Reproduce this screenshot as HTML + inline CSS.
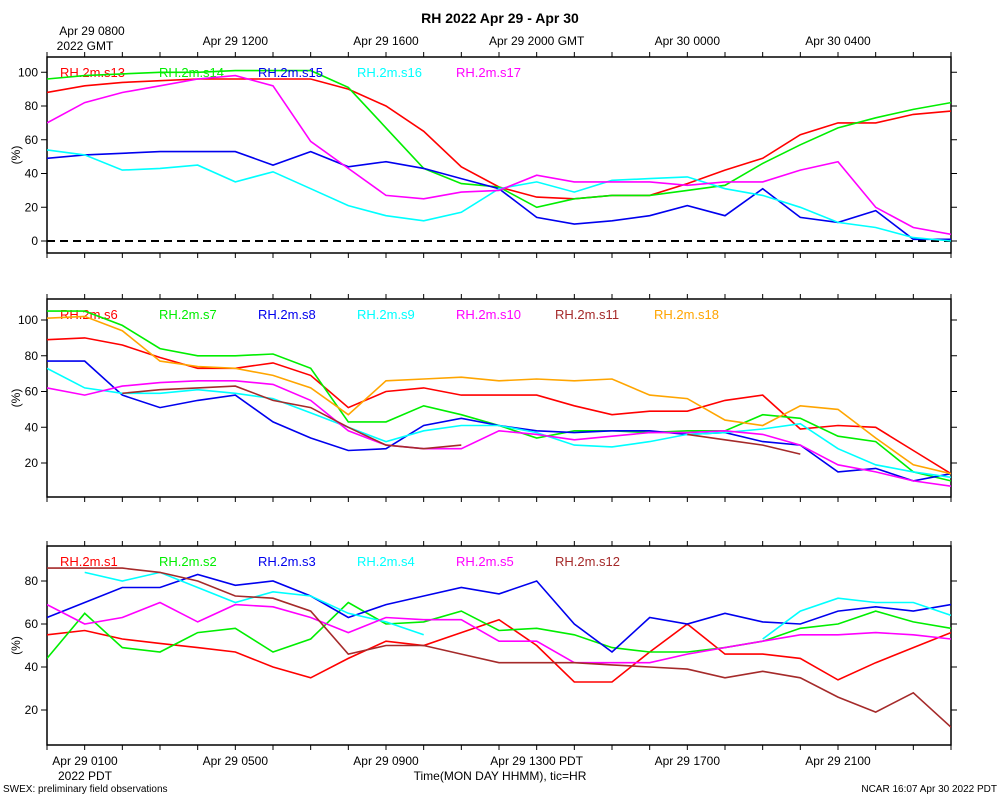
<!DOCTYPE html>
<html><head><meta charset="utf-8"><style>
body{margin:0;background:#fff}
svg{display:block;font-family:"Liberation Sans",sans-serif}
</style></head><body>
<svg id="c" width="1000" height="800" viewBox="0 0 1000 800" xmlns="http://www.w3.org/2000/svg">
<rect width="1000" height="800" fill="#fff"/>
<text x="500" y="23" text-anchor="middle" font-size="14" font-weight="bold">RH 2022 Apr 29 - Apr 30</text>
<text x="92" y="35" text-anchor="middle" font-size="12">Apr 29 0800</text>
<text x="85" y="50" text-anchor="middle" font-size="12">2022 GMT</text>
<text x="85" y="765" text-anchor="middle" font-size="12">Apr 29 0100</text>
<text x="85" y="780" text-anchor="middle" font-size="12">2022 PDT</text>
<text x="500" y="780" text-anchor="middle" font-size="12">Time(MON DAY HHMM), tic=HR</text>
<text x="3" y="792" font-size="10">SWEX: preliminary field observations</text>
<text x="997" y="792" text-anchor="end" font-size="10">NCAR 16:07 Apr 30 2022 PDT</text>
<g id="plots"></g>
</svg>
<script>
const hours=[0,1,2,3,4,5,6,7,8,9,10,11,12,13,14,15,16,17,18,19,20,21,22,23,24];
const topTickLabels=["Apr 29 1200","Apr 29 1600","Apr 29 2000 GMT","Apr 30 0000","Apr 30 0400"];
const topTickHours=[5,9,13,17,21];
const bottomTickLabels=["Apr 29 0500","Apr 29 0900","Apr 29 1300 PDT","Apr 29 1700","Apr 29 2100"];
const bottomTickHours=[5,9,13,17,21];
const n=null;
// panel 1
const s13=[88,92,94,95,96,96,96,96,90,80,65,44,32,26,25,27,27,34,42,49,63,70,70,75,77];
const s14=[96,98,99,100,100,101,101,101,91,67,43,34,32,20,25,27,27,30,33,46,57,67,73,78,82];
const s15=[49,51,52,53,53,53,45,53,44,47,43,37,31,14,10,12,15,21,15,31,14,11,18,1,1];
const s16=[54,51,42,43,45,35,41,31,21,15,12,17,31,35,29,36,37,38,31,27,20,11,8,2,0];
const s17=[70,82,88,92,96,98,92,59,43,27,25,29,30,39,35,35,35,33,35,35,42,47,20,8,4];
// panel 2
const s6=[89,90,86,79,73,73,76,69,51,60,62,58,58,58,52,47,49,49,55,58,39,41,40,27,14];
const s7=[105,105,97,84,80,80,81,73,43,43,52,47,41,34,38,38,37,38,38,47,45,35,32,15,10];
const s8=[77,77,58,51,55,58,43,34,27,28,41,45,41,38,37,38,38,36,37,32,30,15,17,10,14];
const s9=[73,62,59,59,61,59,56,48,40,32,38,41,41,37,30,29,32,36,37,39,42,28,19,15,12];
const s10=[62,58,63,65,66,66,64,55,38,30,28,28,38,36,33,35,37,37,38,36,30,19,15,10,7];
const s11=[n,n,59,61,62,63,55,51,40,30,28,30,n,n,n,n,n,36,33,30,25,n,n,n,n];
const s18=[101,102,94,77,74,73,69,62,47,66,67,68,66,67,66,67,58,56,44,41,52,50,34,19,14];
// panel 3
const s1=[55,57,53,51,49,47,40,35,44,52,50,56,62,50,33,33,47,60,46,46,44,34,42,49,56];
const s2=[44,65,49,47,56,58,47,53,70,60,61,66,57,58,55,49,47,47,49,52,58,60,66,61,58];
const s3=[63,70,77,77,83,78,80,73,63,69,73,77,74,80,60,47,63,60,65,61,60,66,68,66,69];
const s4=[n,84,80,84,77,70,75,73,65,61,55,n,n,n,n,n,n,n,n,53,66,72,70,70,64];
const s5=[69,60,63,70,61,69,68,63,56,63,62,62,52,52,42,42,42,46,49,52,55,55,56,55,53];
const s12=[86,86,86,84,80,73,72,66,46,50,50,46,42,42,42,41,40,39,35,38,35,26,19,28,12];

const NS="http://www.w3.org/2000/svg";
const root=document.getElementById('plots');
const X0=47,X1=951;
function xs(h){return X0+(X1-X0)*h/24;}
function mk(tag,attrs,parent){const e=document.createElementNS(NS,tag);for(const k in attrs)e.setAttribute(k,attrs[k]);(parent||root).appendChild(e);return e;}

const panels=[
 {top:57,bot:253,y0:241,y100:72.25,ticks:[0,20,40,60,80,100],zero:true,
  names:["s13","s14","s15","s16","s17"],data:[s13,s14,s15,s16,s17],colors:["#ff0000","#00ee00","#0000ee","#00ffff","#ff00ff"]},
 {top:299,bot:497,y0:498.75,y100:320,ticks:[20,40,60,80,100],
  names:["s6","s7","s8","s9","s10","s11","s18"],data:[s6,s7,s8,s9,s10,s11,s18],colors:["#ff0000","#00ee00","#0000ee","#00ffff","#ff00ff","#a52a2a","#ffa500"]},
 {top:546,bot:745,y0:753,y100:538,ticks:[20,40,60,80],
  names:["s1","s2","s3","s4","s5","s12"],data:[s1,s2,s3,s4,s5,s12],colors:["#ff0000","#00ee00","#0000ee","#00ffff","#ff00ff","#a52a2a"]}
];

panels.forEach((p,pi)=>{
 const g=mk('g',{});
 
 
 const ys=v=>p.y0+(p.y100-p.y0)*v/100;
 const cp=mk('clipPath',{id:'cp'+pi},g);
 mk('rect',{x:X0,y:p.top,width:X1-X0,height:p.bot-p.top},cp);
 const fr=mk('rect',{x:X0,y:p.top,width:X1-X0,height:p.bot-p.top,fill:'none',stroke:'#000','stroke-width':1.5},g);
 
 
 hours.forEach(h=>{
  const x=xs(h);
  mk('line',{x1:x,x2:x,y1:p.top,y2:p.top-5,stroke:'#000'},g);
  mk('line',{x1:x,x2:x,y1:p.bot,y2:p.bot+5,stroke:'#000'},g);
 });
 p.ticks.forEach(v=>{
  const y=ys(v);
  mk('line',{x1:X0-6,x2:X0,y1:y,y2:y,stroke:'#000'},g);
  mk('line',{x1:X1,x2:X1+6,y1:y,y2:y,stroke:'#000'},g);
  const t=mk('text',{x:X0-9,y:y+4,'text-anchor':'end','font-size':12},g);
  t.textContent=v;
  
  
 });
 const yl=mk('text',{x:0,y:0,'text-anchor':'middle','font-size':12,transform:`translate(20,${(p.top+p.bot)/2}) rotate(-90)`},g);
 yl.textContent='(%)';
 
 
 if(p.zero){
  const z=mk('line',{x1:X0,x2:X1,y1:ys(0),y2:ys(0),stroke:'#000','stroke-width':2,'stroke-dasharray':'8,5'},g);
  
  
 }
 p.data.forEach((arr,si)=>{
  let d='',pen=false;
  arr.forEach((v,i)=>{
   if(v===null){pen=false;return;}
   d+=(pen?'L':'M')+xs(hours[i]).toFixed(1)+','+ys(v).toFixed(1);pen=true;
  });
  const path=mk('path',{d:d,fill:'none',stroke:p.colors[si],'stroke-width':1.6,'clip-path':`url(#cp${pi})`},g);
  
  
  const lt=mk('text',{x:60+99*si,y:p.top+20,'font-size':13,fill:p.colors[si]},g);
  lt.textContent='RH.2m.'+p.names[si];
  
  
 });
});
topTickHours.forEach((h,i)=>{
 const t=mk('text',{x:xs(h),y:45,'text-anchor':'middle','font-size':12});
 t.textContent=topTickLabels[i];
 
 
});
bottomTickHours.forEach((h,i)=>{
 const t=mk('text',{x:xs(h),y:765,'text-anchor':'middle','font-size':12});
 t.textContent=bottomTickLabels[i];
 
 
});
</script>
</body></html>
